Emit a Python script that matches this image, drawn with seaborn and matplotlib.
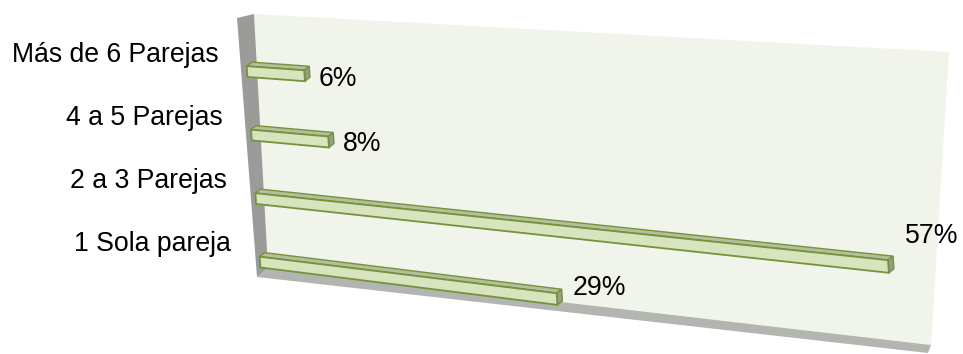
import numpy as np
import pandas as pd
import matplotlib
matplotlib.use("Agg")
import matplotlib.pyplot as plt
import matplotlib.transforms as mtransforms
from matplotlib.patches import Polygon
import seaborn as sns

# ---------------- data ----------------
categories = ["Más de 6 Parejas", "4 a 5 Parejas", "2 a 3 Parejas", "1 Sola pareja"]
values = [6, 8, 57, 29]
value_labels = ["6%", "8%", "57%", "29%"]

# ---------------- layout (pixel geometry of the 3D look) ----------------
W, H = 963, 354
# plot plane of the bars: corners for x in [0, 60], rows -0.5 .. 3.5  (BL, BR, TR, TL)
PLANE = [(262.2, 293.8), (935.6, 383.5), (915.1, 82.7), (244.9, 39.8)]
# back wall, left wall and floor
WALL = [(268, 268), (931, 345), (949, 52), (254, 14)]
LEFT_WALL = [(254, 14), (268, 268), (257, 277), (237, 18)]
FLOOR = [(268, 268), (931, 345), (928, 353), (257, 277)]
DEPTH = (5, -4)  # image-pixel depth of the 3D bars

sns.set_theme(style="white")
plt.rcParams["font.family"] = ["Liberation Sans", "DejaVu Sans"]

fig = plt.figure(figsize=(W / 100, H / 100), dpi=100)
fig.patch.set_facecolor("white")
ax = fig.add_axes([0, 0, 1, 1])
ax.set_zorder(2)
ax.patch.set_visible(False)


def homography(dst):
    src = [(0, 0), (1, 0), (1, 1), (0, 1)]
    A, B = [], []
    for (x, y), (X, Y) in zip(src, dst):
        A.append([x, y, 1, 0, 0, 0, -X * x, -X * y]); B.append(X)
        A.append([0, 0, 0, x, y, 1, -Y * x, -Y * y]); B.append(Y)
    h = np.linalg.solve(np.array(A, float), np.array(B, float))
    return np.append(h, 1).reshape(3, 3)


class Persp(mtransforms.Transform):
    """Maps axes-fraction coordinates onto the perspective plane (display units)."""
    input_dims = 2
    output_dims = 2
    is_separable = False

    def __init__(self, fig, Hm):
        super().__init__()
        self._fig = fig
        self._H = Hm

    def transform_non_affine(self, values):
        uv = np.atleast_2d(np.asarray(values, float))
        p = np.column_stack([uv, np.ones(len(uv))]) @ self._H.T
        img = p[:, :2] / p[:, 2:3]
        frac = np.column_stack([img[:, 0] / W, 1 - img[:, 1] / H])
        return self._fig.transFigure.transform(frac)


def pix_poly(pts, **kw):
    pts = np.array(pts, float)
    frac = np.column_stack([pts[:, 0] / W, 1 - pts[:, 1] / H])
    return Polygon(frac, closed=True, transform=fig.transFigure, **kw)


# background walls
fig.patches.append(pix_poly(WALL, facecolor="#f1f4ea", edgecolor="none", zorder=-1))
fig.patches.append(pix_poly(LEFT_WALL, facecolor="#9b9c9a", edgecolor="none", zorder=-1))
fig.patches.append(pix_poly(FLOOR, facecolor="#b3b5b0", edgecolor="none", zorder=-1))

df = pd.DataFrame({"cat": categories, "valor": values})
sns.barplot(data=df, x="valor", y="cat", order=categories, orient="h",
            width=0.17, color="#d7e4bd", edgecolor="#76923c", linewidth=1.3,
            saturation=1, ax=ax)
ax.set_xlim(0, 60)
ax.set_ylim(3.5, -0.5)
ax.set_axis_off()

bar_tr = ax.transData + ax.transAxes.inverted() + Persp(fig, homography(PLANE))

dx, dy = DEPTH[0], -DEPTH[1]  # display units (y up)
for p in list(ax.patches):
    x0, y0 = p.get_x(), p.get_y()
    x1, y1 = x0 + p.get_width(), y0 + p.get_height()
    p.set_transform(bar_tr)
    p.set_clip_on(False)
    p.set_zorder(4)
    # top face (y0 is the upper edge since the axis is inverted)
    a, b = bar_tr.transform([[x0, y0], [x1, y0]])
    top = Polygon([a, b, b + (dx, dy), a + (dx, dy)], closed=True,
                  transform=mtransforms.IdentityTransform(),
                  facecolor="#b4bf9c", edgecolor="#76923c", linewidth=1.0,
                  zorder=3, clip_on=False)
    ax.add_artist(top)
    c, d = bar_tr.transform([[x1, y0], [x1, y1]])
    cap = Polygon([c, d, d + (dx, dy), c + (dx, dy)], closed=True,
                  transform=mtransforms.IdentityTransform(),
                  facecolor="#979f88", edgecolor="#76923c", linewidth=1.0,
                  zorder=3, clip_on=False)
    ax.add_artist(cap)

for i, (cat, v, lab) in enumerate(zip(categories, values, value_labels)):
    ax.text(-3.0, i - 0.12, cat, transform=bar_tr, ha="right", va="baseline",
            fontsize=19.2, color="black", clip_on=False)
    ax.text(v + 1.4, i + 0.195 - 0.0095 * v, lab, transform=bar_tr, ha="left",
            va="baseline", fontsize=19.2, color="black", clip_on=False)

fig.savefig("out.png", dpi=100, facecolor="white")
